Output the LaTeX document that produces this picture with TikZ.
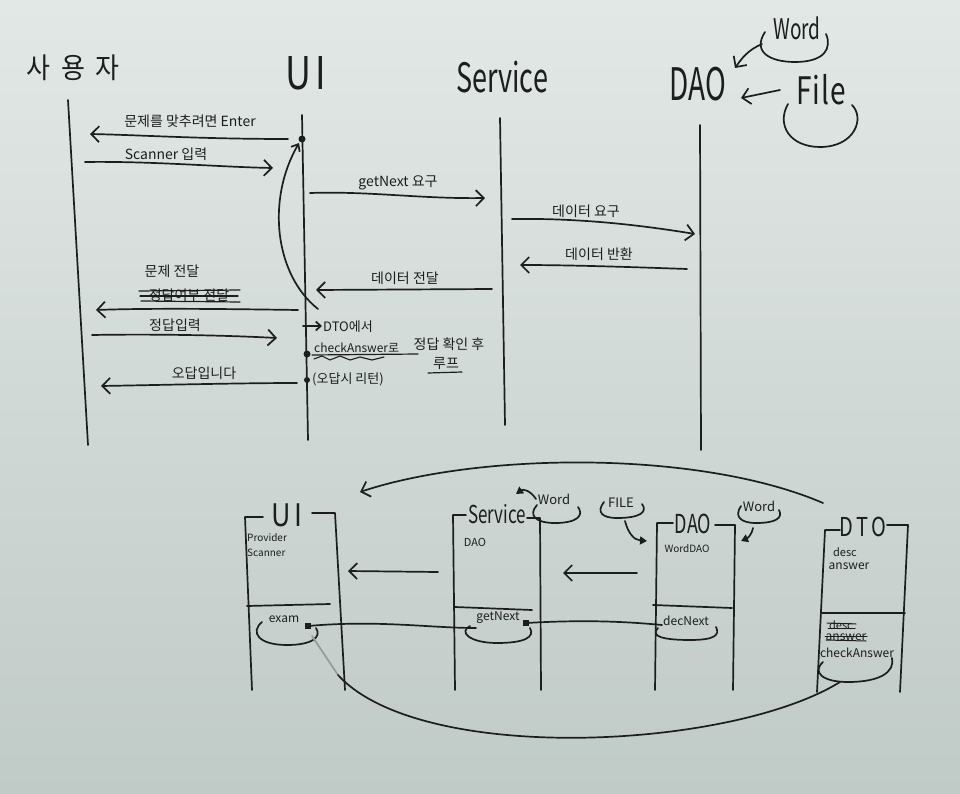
\documentclass[tikz,border=0pt]{standalone}
\usepackage{fontspec}
\setmainfont{Noto Sans CJK KR}
\usetikzlibrary{arrows.meta}
\definecolor{ink}{RGB}{28,30,30}
\definecolor{boardtop}{RGB}{226,232,230}
\definecolor{boardbot}{RGB}{192,202,198}
\newcommand{\tallt}[2]{\scalebox{1}[#1]{#2}}
\begin{document}
\begin{tikzpicture}[x=1pt,y=-1pt,
  inkline/.style={draw=ink, line width=1.7pt, line cap=round, line join=round},
  msg/.style={inkline, -{Straight Barb[length=8pt,width=16pt]}},
  tri/.style={inkline, -{Triangle[length=7pt,width=8pt]}},
  lbl/.style={inner sep=0pt, text=ink, font=\fontsize{14}{14}\selectfont},
  note/.style={inner sep=0pt, text=ink, font=\fontsize{13}{13}\selectfont},
  small/.style={inner sep=0pt, text=ink, font=\fontsize{11}{11}\selectfont},
  ttl/.style={inner sep=0pt, text=ink},
  dotmark/.style={circle, fill=ink, inner sep=0pt, minimum size=7pt},
  sqmark/.style={rectangle, fill=ink, inner sep=0pt, minimum size=6pt}
]
\shade[top color=boardtop, bottom color=boardbot] (0,0) rectangle (960,794);
\useasboundingbox (0,0) rectangle (960,794);

% ---------- top titles ----------
\node[ttl, font=\fontsize{26}{26}\selectfont] (tUser) at (73,68) {\tallt{1.1}{사\hspace{11pt}용\hspace{11pt}자}};
\node[ttl, font=\fontsize{36}{36}\selectfont] (tUI) at (306,73) {\tallt{1.25}{U\hspace{4pt}I}};
\node[ttl, font=\fontsize{27}{27}\selectfont] (tSvc) at (502,77) {\tallt{1.5}{Service}};
\node[ttl, font=\fontsize{28}{28}\selectfont] (tDAO) at (698,84) {\tallt{1.6}{DAO}};
\node[ttl, font=\fontsize{19}{19}\selectfont] (tWord) at (797,28) {\tallt{1.5}{Word}};
\node[ttl, font=\fontsize{28}{28}\selectfont] (tFile) at (821,90) {\tallt{1.35}{F\hspace{1pt}i\hspace{1pt}l\hspace{1pt}e}};

% Word / File loops and arrows to DAO
\draw[inkline] (765,32) .. controls (752,52) and (770,62) .. (795,62) .. controls (825,62) and (832,48) .. (826,34);
\draw[inkline] (788,104) .. controls (776,125) and (790,147) .. (820,147) .. controls (855,147) and (865,118) .. (852,105);
\coordinate (wA) at (762,44);
\coordinate (wB) at (735,68);
\draw[msg] (wA) .. controls (748,50) and (742,58) .. (wB);
\coordinate (fA) at (780,90);
\coordinate (fB) at (741,98);
\draw[msg] (fA) -- (fB);

% ---------- lifelines ----------
\coordinate (uTop) at (68,100);  \coordinate (uBot) at (88,445);
\coordinate (iTop) at (302,115); \coordinate (iBot) at (308,440);
\coordinate (sTop) at (500,118); \coordinate (sBot) at (505,425);
\coordinate (dTop) at (700,125); \coordinate (dBot) at (701,450);
\draw[inkline] (uTop) -- (uBot);
\draw[inkline] (iTop) -- (iBot);
\draw[inkline] (sTop) -- (sBot);
\draw[inkline] (dTop) -- (dBot);

% ---------- messages ----------
\coordinate (m1a) at (288,139); \coordinate (m1b) at (90,134);
\draw[msg] (m1a) .. controls (200,139) and (140,135) .. (m1b);
\node[lbl] (l1) at (190,121) {문제를 맞추려면 Enter};

\coordinate (m2a) at (85,162); \coordinate (m2b) at (273,168);
\draw[msg] (m2a) .. controls (150,161) and (220,167) .. (m2b);
\node[lbl] (l2) at (166,154) {Scanner 입력};

\coordinate (m3a) at (310,193); \coordinate (m3b) at (485,198);
\draw[msg] (m3a) .. controls (370,191) and (420,199) .. (m3b);
\node[lbl] (l3) at (398,183) {getNext 요구};

\coordinate (m4a) at (512,219); \coordinate (m4b) at (695,234);
\draw[msg] (m4a) .. controls (580,218) and (640,225) .. (m4b);
\node[lbl] (l4) at (586,211) {데이터 요구};

\coordinate (m5a) at (687,269); \coordinate (m5b) at (520,265);
\draw[msg] (m5a) .. controls (630,267) and (570,265) .. (m5b);
\node[lbl] (l5) at (599,254) {데이터 반환};

\coordinate (m6a) at (492,289); \coordinate (m6b) at (316,290);
\draw[msg] (m6a) -- (m6b);
\node[lbl] (l6) at (405,278) {데이터 전달};

\coordinate (m7a) at (298,310); \coordinate (m7b) at (96,310);
\draw[msg] (m7a) .. controls (230,309) and (150,308) .. (m7b);
\node[lbl] (l7) at (172,271) {문제 전달};
\node[lbl] (l7s) at (189,295) {정답여부 전달};
\draw[inkline, line width=1.2pt] (139,291) -- (240,290);
\draw[inkline, line width=1.2pt] (140,296) -- (238,296);
\draw[inkline, line width=1.2pt] (141,301) -- (240,302);

\coordinate (m8a) at (92,335); \coordinate (m8b) at (277,338);
\draw[msg] (m8a) .. controls (150,334) and (220,335) .. (m8b);
\node[lbl] (l8) at (175,325) {정답입력};

\coordinate (m9a) at (297,383); \coordinate (m9b) at (101,386);
\draw[msg] (m9a) .. controls (240,383) and (160,385) .. (m9b);
\node[lbl] (l9) at (204,373) {오답입니다};

% loop curve on UI lifeline
\coordinate (cA) at (318,309);
\coordinate (cB) at (299,143);
\draw[inkline, -{Straight Barb[length=6pt,width=10pt]}] (cA) .. controls (275,275) and (266,200) .. (cB);
\node[dotmark] (d1) at (302,139) {};
\node[dotmark] (d2) at (307,354) {};
\node[dotmark, minimum size=6pt] (d3) at (307,380) {};

% UI notes
\coordinate (nA) at (303,326); \coordinate (nB) at (322,326);
\draw[inkline, -{Straight Barb[length=5pt,width=9pt]}] (nA) -- (nB);
\node[note, anchor=west] (n1) at (323,327) {DTO에서};
\node[note, font=\fontsize{12}{12}\selectfont, anchor=west] (n2) at (314,348) {checkAnswer로};
\draw[inkline, line width=1.2pt] (312,355) -- (418,354);
\draw[inkline, line width=1.1pt] (314,359) -- (322,356) -- (330,360) -- (340,356) -- (350,360) -- (360,357) -- (372,360) -- (384,357);
\node[lbl] (n3) at (449,344) {정답 확인 후};
\node[lbl] (n4) at (446,364) {루프};
\draw[inkline, line width=1.2pt] (428,373) -- (462,372);
\node[note, anchor=west] (n5) at (312,379) {(오답시 리턴)};

% ---------- bottom class boxes ----------
% UI box
\node[ttl, font=\fontsize{27}{27}\selectfont] (bUI) at (287,515) {\tallt{1.15}{U\hspace{3pt}I}};
\draw[inkline] (263,517) -- (245,517) -- (252,690);
\draw[inkline] (312,513) -- (335,513) -- (345,690);
\draw[inkline] (247,606) -- (330,604);
\node[small, font=\fontsize{10}{10}\selectfont, anchor=west] (bUIa) at (247,538) {Provider};
\node[small, font=\fontsize{10}{10}\selectfont, anchor=west] (bUIb) at (247,553) {Scanner};
\node[small, font=\fontsize{12}{12}\selectfont] (exam) at (284,619) {exam};
\draw[inkline] (262,622) .. controls (250,632) and (258,645) .. (287,645) .. controls (312,645) and (322,637) .. (316,628);
\node[sqmark] (sq1) at (308,626) {};

% Service box
\node[ttl, font=\fontsize{17}{17}\selectfont] (bSvc) at (497,514) {\tallt{1.45}{Service}};
\draw[inkline] (466,515) -- (453,515) -- (455,690);
\draw[inkline] (527,518) -- (540,518) -- (541,690);
\draw[inkline] (455,607) -- (532,610);
\node[small] (bSvca) at (475,542) {DAO};
\node[small, font=\fontsize{12}{12}\selectfont] (getN) at (498,618) {getNext};
\draw[inkline] (470,626) .. controls (458,632) and (470,643) .. (497,643) .. controls (525,643) and (535,637) .. (530,628);
\node[sqmark] (sq2) at (526,623) {};
% Word for Service
\node[note] (sWord) at (554,499) {Word};
\draw[inkline] (537,505) .. controls (528,515) and (535,523) .. (555,523) .. controls (578,523) and (584,515) .. (578,507);
\coordinate (swA) at (536,499); \coordinate (swB) at (516,494);
\draw[tri] (swA) .. controls (530,490) and (523,489) .. (swB);

% DAO box
\node[ttl, font=\fontsize{18}{18}\selectfont] (bDAO) at (693,524) {\tallt{1.45}{DAO}};
\draw[inkline] (673,523) -- (657,523) -- (655,690);
\draw[inkline] (715,525) -- (735,525) -- (733,690);
\draw[inkline] (653,605) -- (732,608);
\node[small, font=\fontsize{10}{10}\selectfont] (bDAOa) at (687,549) {WordDAO};
\node[small, font=\fontsize{12}{12}\selectfont] (decN) at (686,621) {decNext};
\draw[inkline] (658,628) .. controls (650,636) and (662,640) .. (690,640) .. controls (715,640) and (720,635) .. (716,627);
% FILE for DAO
\node[note] (fFile) at (621,503) {FILE};
\draw[inkline] (604,502) .. controls (596,512) and (602,518) .. (617,518) .. controls (640,518) and (648,512) .. (642,504);
\coordinate (ffA) at (625,521); \coordinate (ffB) at (647,541);
\draw[tri] (ffA) .. controls (628,533) and (634,540) .. (ffB);
% Word for DAO
\node[note] (dWord) at (759,506) {Word};
\draw[inkline] (741,506) .. controls (734,516) and (740,523) .. (756,523) .. controls (776,523) and (783,518) .. (779,510);
\coordinate (dwA) at (753,528); \coordinate (dwB) at (741,541);
\draw[tri] (dwA) .. controls (752,534) and (748,538) .. (dwB);

% DTO box
\node[ttl, font=\fontsize{20}{20}\selectfont] (bDTO) at (863,527) {\tallt{1.3}{D\hspace{3pt}T\hspace{3pt}O}};
\draw[inkline] (840,530) -- (825,530) -- (817,692);
\draw[inkline] (887,525) -- (908,525) -- (900,692);
\draw[inkline] (822,613) -- (905,613);
\node[small] (dtoA) at (845,552) {desc};
\node[small, font=\fontsize{12}{12}\selectfont] (dtoB) at (849,566) {answer};
\node[small] (dtoC) at (841,625) {desc};
\draw[inkline, line width=1.0pt] (827,623) -- (856,624);
\draw[inkline, line width=1.0pt] (828,628) -- (855,628);
\node[small, font=\fontsize{12}{12}\selectfont] (dtoD) at (846,637) {answer};
\draw[inkline, line width=1.0pt] (825,636) -- (867,636);
\draw[inkline, line width=1.0pt] (826,640) -- (866,641);
\node[small, font=\fontsize{12}{12}\selectfont] (chk) at (857,653) {checkAnswer};
\draw[inkline] (823,662) .. controls (812,672) and (822,682) .. (848,682) .. controls (880,682) and (895,672) .. (892,658);

% arrows between boxes
\coordinate (a1A) at (438,572); \coordinate (a1B) at (348,571);
\draw[msg] (a1A) -- (a1B);
\coordinate (a2A) at (637,573); \coordinate (a2B) at (563,573);
\draw[msg] (a2A) -- (a2B);

% method call lines
\draw[inkline] (sq1) .. controls (380,620) and (430,628) .. (476,628);
\draw[inkline] (sq2) .. controls (580,620) and (620,621) .. (662,625);

% big arc from DTO back to UI
\coordinate (arcA) at (823,503); \coordinate (arcB) at (360,492);
\draw[msg] (arcA) .. controls (700,450) and (480,452) .. (arcB);

% big curve under everything
\coordinate (bcA) at (312,636); \coordinate (bcB) at (338,675); \coordinate (bcC) at (840,682);
\draw[inkline, draw=ink!45] (bcA) -- (bcB);
\draw[inkline] (bcB) .. controls (420,765) and (730,750) .. (bcC);
\end{tikzpicture}
\end{document}
